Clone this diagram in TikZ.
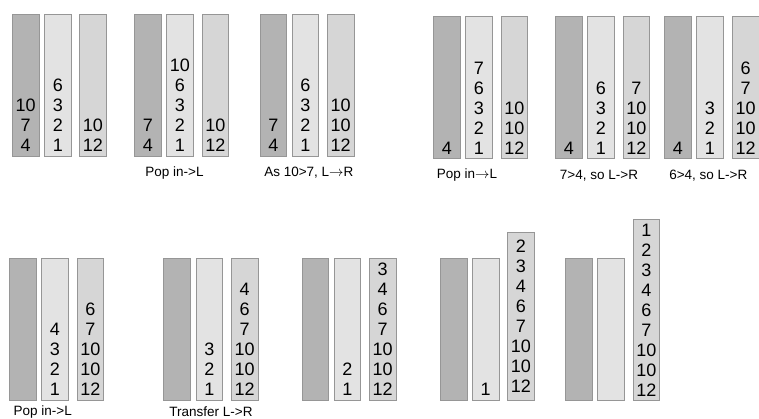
\documentclass[tikz,border=0pt]{standalone}
\usepackage{fontspec}
\setmainfont{Liberation Sans}
\usetikzlibrary{positioning}

\definecolor{inFill}{RGB}{179,179,179}
\definecolor{lFill}{RGB}{227,227,227}
\definecolor{rFill}{RGB}{214,214,214}
\definecolor{edge}{RGB}{150,150,150}

\begin{document}
\begin{tikzpicture}[
    x=1pt, y=1pt,
    stk/.style={draw=edge, line width=0.8pt, anchor=south west, minimum width=26.5pt, minimum height=142pt, inner sep=0pt},
    instk/.style={stk, fill=inFill},
    lstk/.style={stk, fill=lFill},
    rstk/.style={stk, fill=rFill},
    nums/.style={align=center, inner sep=0pt, font=\fontsize{18}{20}\selectfont},
    steplabel/.style={font=\fontsize{13.5}{16}\selectfont}
]
\useasboundingbox (0,0) rectangle (759,419);

% row 1, left
\node[instk] (in1) at (12,262.3) {};
\node[lstk] (L1) at (44.3,262.3) {};
\node[rstk] (R1) at (79.3,262.3) {};
\node[nums, above=5pt of in1.south] (in1t) {10\\7\\4};
\node[nums, above=5pt of L1.south] (L1t) {6\\3\\2\\1};
\node[nums, above=5pt of R1.south] (R1t) {10\\12};

\node[instk] (in2) at (134.3,262.3) {};
\node[lstk] (L2) at (166.3,262.3) {};
\node[rstk] (R2) at (201.7,262.3) {};
\node[nums, above=5pt of in2.south] (in2t) {7\\4};
\node[nums, above=5pt of L2.south] (L2t) {10\\6\\3\\2\\1};
\node[nums, above=5pt of R2.south] (R2t) {10\\12};
\node[steplabel] (lab2) at (174.5,246.3) {Pop in->L};

\node[instk] (in3) at (259.7,262.3) {};
\node[lstk] (L3) at (291.7,262.3) {};
\node[rstk] (R3) at (327,262.3) {};
\node[nums, above=5pt of in3.south] (in3t) {7\\4};
\node[nums, above=5pt of L3.south] (L3t) {6\\3\\2\\1};
\node[nums, above=5pt of R3.south] (R3t) {10\\10\\12};
\node[steplabel] (lab3) at (308.8,246.3) {As 10>7, L$\rightarrow$R};

% row 1, right
\node[instk] (in4) at (433.3,259.7) {};
\node[lstk] (L4) at (465.3,259.7) {};
\node[rstk] (R4) at (500.7,259.7) {};
\node[nums, above=5pt of in4.south] (in4t) {4};
\node[nums, above=5pt of L4.south] (L4t) {7\\6\\3\\2\\1};
\node[nums, above=5pt of R4.south] (R4t) {10\\10\\12};
\node[steplabel] (lab4) at (467,243.7) {Pop in$\rightarrow$L};

\node[instk] (in5) at (555.3,259.7) {};
\node[lstk] (L5) at (587.3,259.7) {};
\node[rstk] (R5) at (622.7,259.7) {};
\node[nums, above=5pt of in5.south] (in5t) {4};
\node[nums, above=5pt of L5.south] (L5t) {6\\3\\2\\1};
\node[nums, above=5pt of R5.south] (R5t) {7\\10\\10\\12};
\node[steplabel] (lab5) at (599,243.7) {7>4, so L->R};

\node[instk] (in6) at (664.3,259.7) {};
\node[lstk] (L6) at (696.3,259.7) {};
\node[rstk] (R6) at (732,259.7) {};
\node[nums, above=5pt of in6.south] (in6t) {4};
\node[nums, above=5pt of L6.south] (L6t) {3\\2\\1};
\node[nums, above=5pt of R6.south] (R6t) {6\\7\\10\\10\\12};
\node[steplabel] (lab6) at (708.3,243.7) {6>4, so L->R};

% row 2
\node[instk] (in7) at (9,18.3) {};
\node[lstk] (L7) at (41.3,18.3) {};
\node[rstk] (R7) at (76.7,18.3) {};
\node[nums, above=5pt of L7.south] (L7t) {4\\3\\2\\1};
\node[nums, above=5pt of R7.south] (R7t) {6\\7\\10\\10\\12};
\node[steplabel] (lab7) at (42.8,7.3) {Pop in->L};

\node[instk] (in8) at (163.3,18.3) {};
\node[lstk] (L8) at (195.7,18.3) {};
\node[rstk] (R8) at (231,18.3) {};
\node[nums, above=5pt of L8.south] (L8t) {3\\2\\1};
\node[nums, above=5pt of R8.south] (R8t) {4\\6\\7\\10\\10\\12};
\node[steplabel] (lab8) at (211,7.3) {Transfer L->R};

\node[instk] (in9) at (301.7,18.3) {};
\node[lstk] (L9) at (333.7,18.3) {};
\node[rstk] (R9) at (369,18.3) {};
\node[nums, above=5pt of L9.south] (L9t) {2\\1};
\node[nums, above=5pt of R9.south] (R9t) {3\\4\\6\\7\\10\\10\\12};

\node[instk] (in10) at (440,18.3) {};
\node[lstk] (L10) at (472,18.3) {};
\node[rstk, minimum height=167.4pt] (R10) at (507.3,18.3) {};
\node[nums, above=5pt of L10.south] (L10t) {1};
\node[nums, above=7.5pt of R10.south] (R10t) {2\\3\\4\\6\\7\\10\\10\\12};

\node[instk] (in11) at (565,18.3) {};
\node[lstk] (L11) at (597.3,18.3) {};
\node[rstk, minimum height=180.4pt] (R11) at (632.7,18.3) {};
\node[nums, above=4pt of R11.south] (R11t) {1\\2\\3\\4\\6\\7\\10\\10\\12};
\end{tikzpicture}
\end{document}
